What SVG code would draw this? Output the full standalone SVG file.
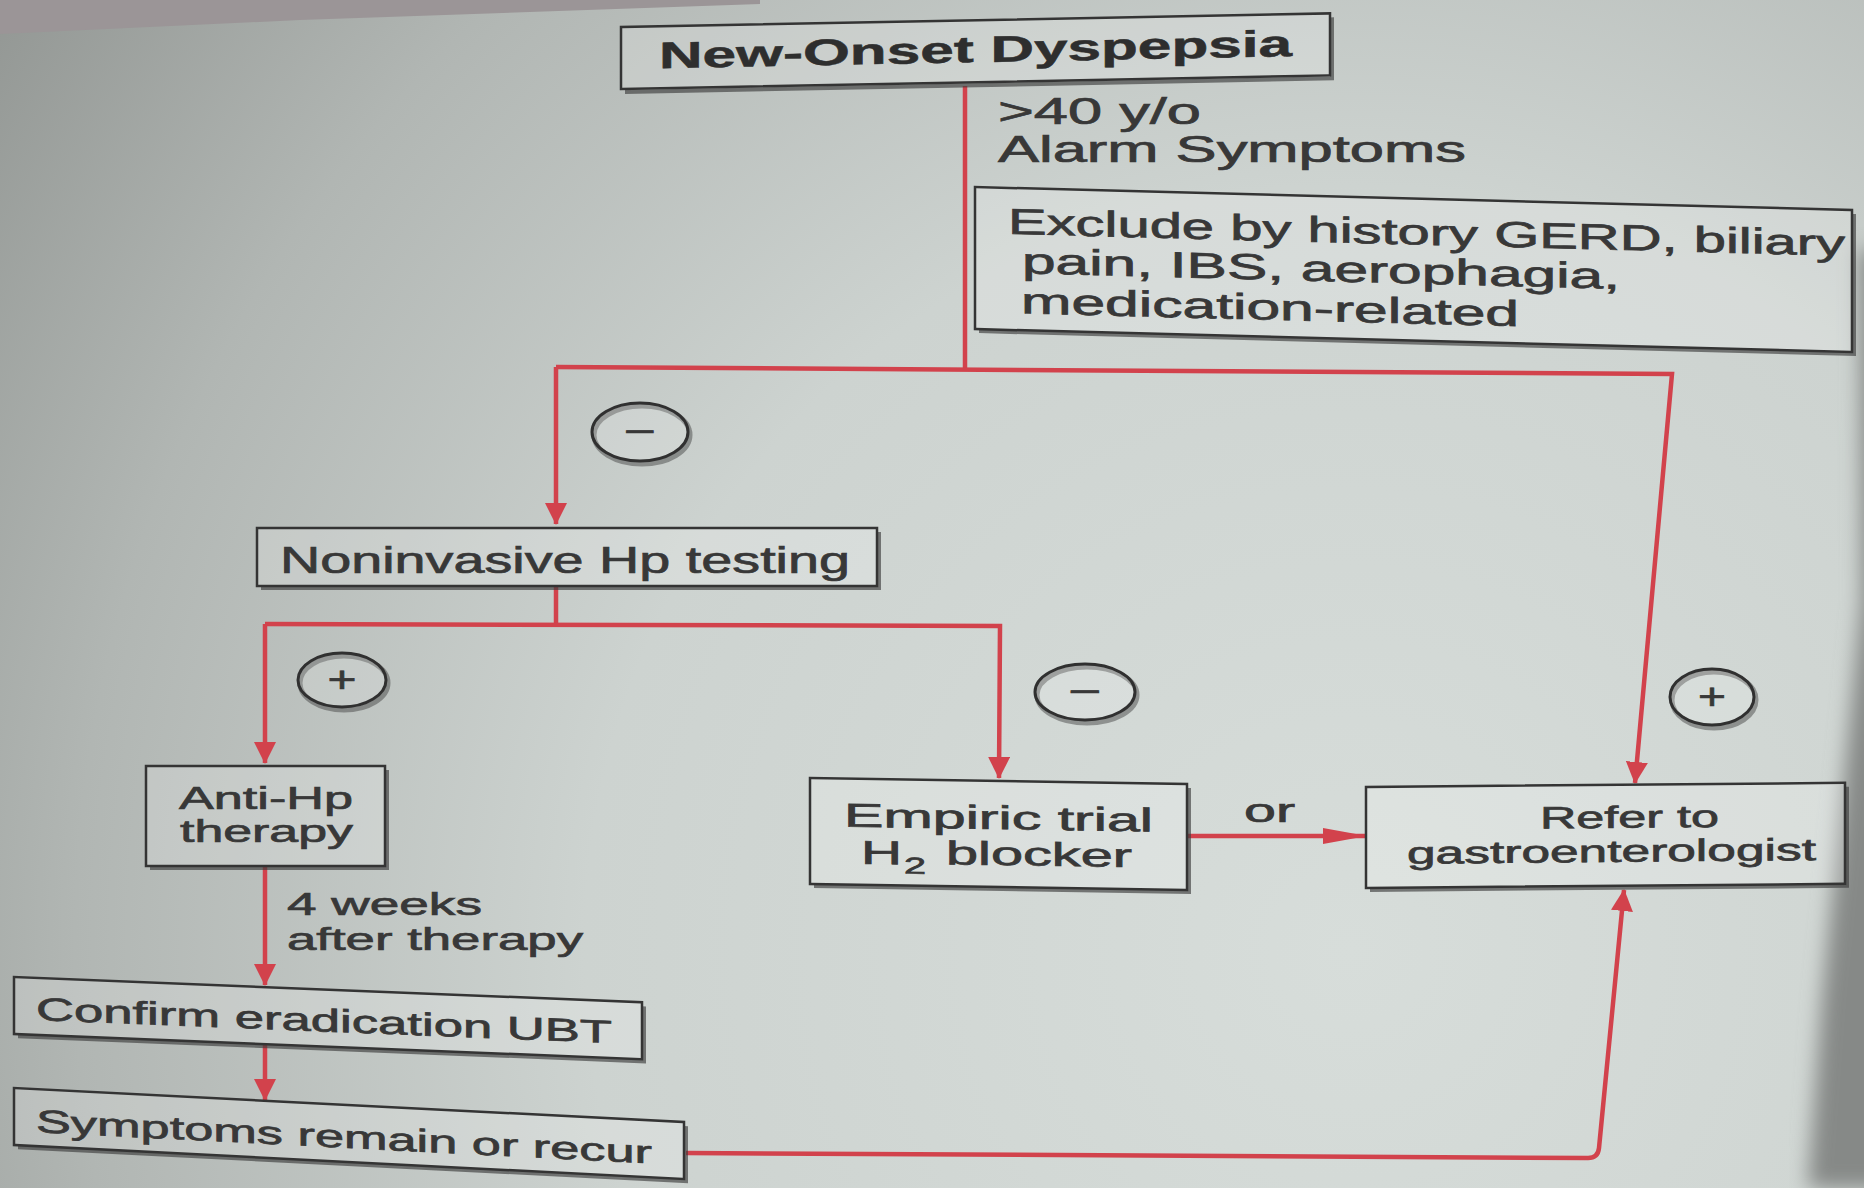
<svg xmlns="http://www.w3.org/2000/svg" width="1864" height="1188" viewBox="0 0 1864 1188">
<defs>
<radialGradient id="bg" gradientUnits="userSpaceOnUse" cx="1350" cy="950" r="1700">
<stop offset="0" stop-color="#d7ddda"/>
<stop offset="0.45" stop-color="#cdd3d0"/>
<stop offset="0.75" stop-color="#b1b6b3"/>
<stop offset="1" stop-color="#8f9390"/>
</radialGradient>
<filter id="soft" x="-20%" y="-20%" width="140%" height="140%"><feGaussianBlur stdDeviation="10"/></filter>
<marker id="arrV" viewBox="0 0 22 22" refX="21" refY="11" markerWidth="22" markerHeight="22" markerUnits="userSpaceOnUse" orient="auto"><path d="M0,0 L22,11 L0,22 Z" fill="#d2424c"/></marker>
<marker id="arrH" viewBox="0 0 44 16" refX="43" refY="8" markerWidth="44" markerHeight="16" markerUnits="userSpaceOnUse" orient="auto"><path d="M0,0 L44,8 L0,16 Z" fill="#d2424c"/></marker>
</defs>
<style>
.box{fill:#ffffff;fill-opacity:.2;stroke:#343434;stroke-width:2.5}
.sh{fill:none;stroke:#3e3e3e;stroke-width:4;stroke-opacity:.65}
.t{font-family:"Liberation Sans",Arial,sans-serif;fill:#383838;stroke:#383838;stroke-width:0.7}
.b{font-weight:bold;fill:#2e2e2e;stroke:#2e2e2e;stroke-width:0.5}
.conn{fill:none;stroke:#d2424c;stroke-width:4.5}
.circ{fill:#ffffff;fill-opacity:.15;stroke:#303030;stroke-width:3}
.csh{fill:none;stroke:#3a3a3a;stroke-width:5;stroke-opacity:.45}
</style>
<rect width="1864" height="1188" fill="url(#bg)"/>
<polygon points="0,0 760,0 760,4 300,20 0,34" fill="#9b9597"/>
<polygon points="1860,250 1862,600 1822,1000 1808,1188 1900,1188 1900,250" fill="#868987" filter="url(#soft)"/>

<g id="connectors">
<path class="conn" d="M965,86 L965,369"/>
<path class="conn" d="M556,367 L556,524" marker-end="url(#arrV)"/>
<path class="conn" d="M556,367 L1672,374 L1635,783" marker-end="url(#arrV)"/>
<path class="conn" d="M556,586 L556,624"/>
<path class="conn" d="M265,624 L265,763" marker-end="url(#arrV)"/>
<path class="conn" d="M265,624 L1000,626 L999,778" marker-end="url(#arrV)"/>
<path class="conn" d="M265,866 L265,985" marker-end="url(#arrV)"/>
<path class="conn" d="M265,1045 L265,1100" marker-end="url(#arrV)"/>
<path class="conn" d="M1187,836 L1366,836" marker-end="url(#arrH)"/>
<path class="conn" d="M686,1153 L1588,1158 Q1598,1158 1599,1148 L1624,890" marker-end="url(#arrV)"/>
</g>

<g id="n-new-onset" transform="translate(621,27) skewY(-1.1)">
<path class="sh" d="M711,4 V65 H4"/>
<rect class="box" width="709" height="62"/>
<text class="t b" x="38" y="42" font-size="37" textLength="633" lengthAdjust="spacingAndGlyphs">New-Onset Dyspepsia</text>
</g>

<g id="lbl-alarm">
<text class="t" x="998" y="124" font-size="36" textLength="203" lengthAdjust="spacingAndGlyphs">&gt;40 y/o</text>
<text class="t" x="998" y="162" font-size="36" textLength="468" lengthAdjust="spacingAndGlyphs">Alarm Symptoms</text>
</g>

<g id="n-exclude" transform="translate(975,187) skewY(1.5)">
<path class="sh" d="M879,4 V144 H4"/>
<rect class="box" width="877" height="142"/>
<text class="t" x="33" y="46" font-size="36" textLength="837" lengthAdjust="spacingAndGlyphs">Exclude by history GERD, biliary</text>
<text class="t" x="47" y="85" font-size="36" textLength="598" lengthAdjust="spacingAndGlyphs">pain, IBS, aerophagia,</text>
<text class="t" x="46" y="125" font-size="36" textLength="498" lengthAdjust="spacingAndGlyphs">medication-related</text>
</g>

<g id="lbl-minus-1">
<ellipse class="csh" cx="642" cy="435" rx="48" ry="29"/>
<ellipse class="circ" cx="640" cy="432" rx="48" ry="29"/>
<text class="t" x="640" y="443" font-size="34" text-anchor="middle" textLength="32" lengthAdjust="spacingAndGlyphs">−</text>
</g>

<g id="n-noninvasive">
<path class="sh" d="M879,532 V588 H261"/>
<rect class="box" x="257" y="528" width="620" height="58"/>
<text class="t" x="280" y="573" font-size="37" textLength="570" lengthAdjust="spacingAndGlyphs">Noninvasive Hp testing</text>
</g>

<g id="lbl-plus-1">
<ellipse class="csh" cx="344" cy="683" rx="44" ry="27"/>
<ellipse class="circ" cx="342" cy="680" rx="44" ry="27"/>
<text class="t" x="342" y="692" font-size="36" text-anchor="middle" textLength="29" lengthAdjust="spacingAndGlyphs">+</text>
</g>

<g id="lbl-minus-2">
<ellipse class="csh" cx="1087" cy="695" rx="50" ry="28"/>
<ellipse class="circ" cx="1085" cy="692" rx="50" ry="28"/>
<text class="t" x="1085" y="703" font-size="34" text-anchor="middle" textLength="33" lengthAdjust="spacingAndGlyphs">−</text>
</g>

<g id="lbl-plus-2">
<ellipse class="csh" cx="1714" cy="700" rx="42" ry="28"/>
<ellipse class="circ" cx="1712" cy="697" rx="42" ry="28"/>
<text class="t" x="1712" y="709" font-size="36" text-anchor="middle" textLength="28" lengthAdjust="spacingAndGlyphs">+</text>
</g>

<g id="n-anti-hp" transform="translate(146,766)">
<path class="sh" d="M241,4 V102 H4"/>
<rect class="box" width="239" height="100"/>
<text class="t" x="33" y="43" font-size="32" textLength="174" lengthAdjust="spacingAndGlyphs">Anti-Hp</text>
<text class="t" x="34" y="76" font-size="32" textLength="173" lengthAdjust="spacingAndGlyphs">therapy</text>
</g>

<g id="lbl-4weeks">
<text class="t" x="287" y="915" font-size="32" textLength="195" lengthAdjust="spacingAndGlyphs">4 weeks</text>
<text class="t" x="287" y="950" font-size="32" textLength="296" lengthAdjust="spacingAndGlyphs">after therapy</text>
</g>

<g id="n-empiric" transform="translate(810,778) skewY(0.9)">
<path class="sh" d="M379,4 V108 H4"/>
<rect class="box" width="377" height="106"/>
<text class="t" x="34" y="48" font-size="33" textLength="309" lengthAdjust="spacingAndGlyphs">Empiric trial</text>
<text class="t" x="51" y="85" font-size="33" textLength="41" lengthAdjust="spacingAndGlyphs">H</text>
<text class="t" x="94" y="94" font-size="23" textLength="22" lengthAdjust="spacingAndGlyphs">2</text>
<text class="t" x="136" y="84" font-size="33" textLength="186" lengthAdjust="spacingAndGlyphs">blocker</text>
</g>

<g id="lbl-or">
<text class="t" x="1244" y="822" font-size="33" textLength="51" lengthAdjust="spacingAndGlyphs">or</text>
</g>

<g id="n-refer" transform="translate(1366,787) skewY(-0.5)">
<path class="sh" d="M481,4 V103 H4"/>
<rect class="box" width="479" height="101"/>
<text class="t" x="174" y="43" font-size="31" textLength="179" lengthAdjust="spacingAndGlyphs">Refer to</text>
<text class="t" x="41" y="77" font-size="31" textLength="409" lengthAdjust="spacingAndGlyphs">gastroenterologist</text>
</g>

<g id="n-confirm" transform="translate(14,977) skewY(2.3)">
<path class="sh" d="M630,4 V59 H4"/>
<rect class="box" width="628" height="57"/>
<text class="t" x="22" y="42" font-size="32" textLength="576" lengthAdjust="spacingAndGlyphs">Confirm eradication UBT</text>
</g>

<g id="n-symptoms" transform="translate(14,1088) skewY(2.9)">
<path class="sh" d="M672,4 V59 H4"/>
<rect class="box" width="670" height="57"/>
<text class="t" x="22" y="43" font-size="32" textLength="616" lengthAdjust="spacingAndGlyphs">Symptoms remain or recur</text>
</g>
</svg>
